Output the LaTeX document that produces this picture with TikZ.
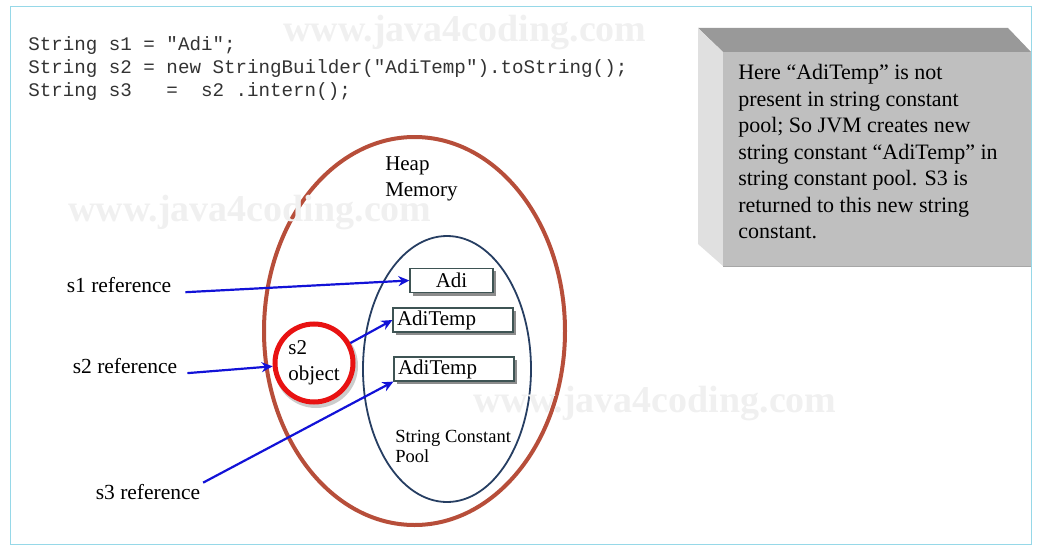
\documentclass[tikz,border=0pt]{standalone}
\usepackage{fontspec}
\setmainfont{Liberation Serif}
\setmonofont{Liberation Mono}
\usepackage{tikz}
\usetikzlibrary{arrows,arrows.meta,positioning,shapes}
\definecolor{heapred}{RGB}{183,78,58}
\definecolor{poolblue}{RGB}{38,62,98}
\definecolor{objred}{RGB}{232,18,18}
\definecolor{refblue}{RGB}{18,18,215}
\definecolor{framecyan}{RGB}{150,216,232}
\definecolor{boxborder}{RGB}{62,84,84}
\tikzstyle{lbl}=[inner sep=0pt,font=\fontsize{21.5}{26}\selectfont]
\tikzstyle{strbox}=[draw=boxborder,line width=1.2pt,fill=white,minimum height=24pt,inner sep=0pt,font=\fontsize{21}{24}\selectfont]
\tikzstyle{boxshade}=[fill=black!45]
\tikzstyle{wmark}=[text=black!6,font=\fontsize{38}{40}\selectfont\bfseries]
\tikzset{every picture/.style={line width=0.5pt}}

\begin{document}
\begin{tikzpicture}[x=1pt,y=-1pt]
\useasboundingbox (0,0) rectangle (1039,551);
\draw[framecyan,line width=1pt] (10,7) rectangle (1031,544);
% memory
\draw[heapred,line width=4pt] (414.5,331) ellipse [x radius=150.5pt,y radius=194pt];
\draw[poolblue,line width=1.8pt] (447,369) ellipse [x radius=84pt,y radius=133pt];
\node[wmark] (W1) at (465,33) {www.java4coding.com};
\node[wmark] (W2) at (250,213) {www.java4coding.com};
\node[wmark] (W3) at (655,404) {www.java4coding.com};
\node[anchor=north west,inner sep=0pt,align=left,text=black!80,font=\ttfamily\fontsize{19.2}{23}\selectfont] (code) at (28,36)
{String s1 = "Adi";\\String s2 = new StringBuilder("AdiTemp").toString();\\String s3~~~=~~s2~.intern();};
% 3d note box
\fill[black!40] (698,28) -- (1008,28) -- (1031,52) -- (723,52) -- cycle;
\fill[black!12] (698,28) -- (723,52) -- (723,266) -- (698,244) -- cycle;
\fill[black!25] (723,52) rectangle (1031,266);
\draw[black!35,line width=1pt] (723,266) -- (1031,266);
\node[anchor=north west,inner sep=0pt,align=left,font=\fontsize{22}{26.5}\selectfont] (note) at (738,64)
{Here “AdiTemp” is not\\present in string constant\\pool; So JVM creates new\\string constant “AdiTemp” in\\string constant pool. S3 is\\returned to this new string\\constant.};
\node[lbl,anchor=north west,align=left,font=\fontsize{21}{26}\selectfont] (heap) at (385,156) {Heap\\Memory};
\node[lbl,anchor=north west,align=left,font=\fontsize{18.5}{20}\selectfont] (scp) at (395,430) {String Constant\\Pool};
\fill[boxshade] (413,271) rectangle (496,296);
\fill[boxshade] (396,311) rectangle (516,335);
\fill[boxshade] (397,360) rectangle (517,384);
\node[strbox,minimum width=83pt] (adi) at (451.5,280.5) {Adi};
\node[strbox,text width=112pt,align=left,inner xsep=4pt] (temp) at (453,320) {AdiTemp};
\node[strbox,text width=112pt,align=left,inner xsep=4pt] (tempb) at (454,369) {AdiTemp};
\draw[black!20,line width=4pt] (316,366) circle [radius=40pt];
\node[circle,draw=objred,fill=white,line width=5pt,minimum size=78pt,inner sep=0pt,align=left,font=\fontsize{21}{26}\selectfont] (obj) at (314,363) {s2\\object};
\node[lbl] (s1ref) at (119,285) {s1 reference};
\node[lbl] (s2ref) at (125,366) {s2 reference};
\node[lbl] (s3ref) at (148,492) {s3 reference};
\path[->,refblue,line width=2.2pt,>={Stealth[length=11pt,width=10pt]}]
(s1ref.south east) edge[shorten <=14pt] (adi.west)
(s2ref.south east) edge[shorten <=10pt] (obj)
(obj) edge (temp.west)
(s3ref.north east) edge[shorten <=3pt] (tempb.south west);
\end{tikzpicture}
\end{document}
